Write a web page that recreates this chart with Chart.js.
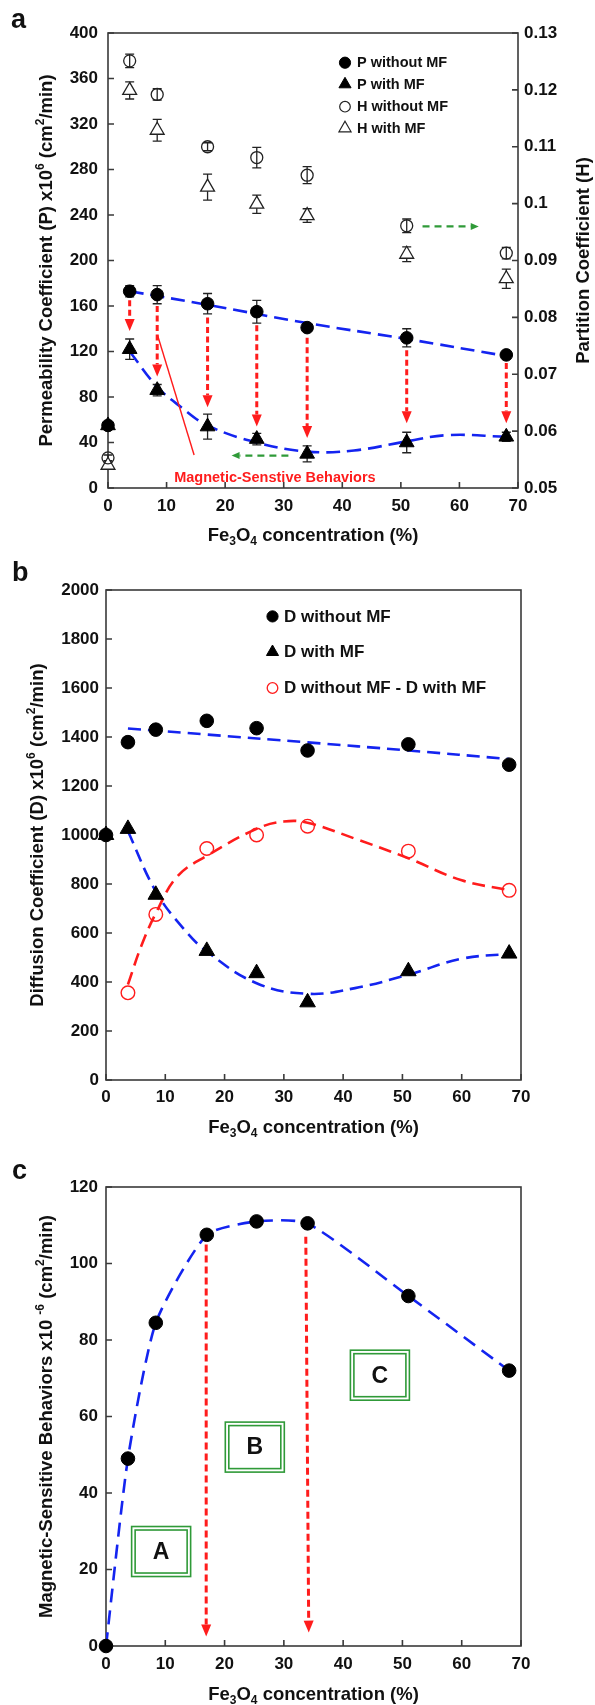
<!DOCTYPE html>
<html>
<head>
<meta charset="utf-8">
<title>Fe3O4 concentration – permeability, diffusion, magnetic-sensitive behaviors</title>
<script src="https://cdn.jsdelivr.net/npm/chart.js@4.4.1/dist/chart.umd.min.js"></script>
<style>
  html, body { margin: 0; padding: 0; background: #fff; }
  body { position: relative; width: 595px; height: 1705px; overflow: hidden; }
  canvas { position: absolute; left: 0; }
</style>
</head>
<body>
<canvas id="chartA" width="595" height="550" style="top:0px"></canvas>
<canvas id="chartB" width="595" height="595" style="top:550px"></canvas>
<canvas id="chartC" width="595" height="560" style="top:1145px"></canvas>
<script>
// Fe3O4 concentration (%), shared by the three panels
const conc = [0, 3.7, 8.4, 17, 25.4, 34, 51, 68];

// panel a – permeability (left axis) and partition coefficient (right axis)
const pWithout    = [55, 173, 170, 162, 155, 141, 132, 117];
const pWithoutErr = [0, 5, 8, 9, 10, 3, 8, 3];
const pWith       = [55, 122, 86, 54, 43, 30, 40, 45];
const pWithErr    = [0, 9, 5, 11, 5, 7, 9, 4];
const hWithout    = [0.0553, 0.1251, 0.1192, 0.1100, 0.1081, 0.1050, 0.0961, 0.0913];
const hWithoutErr = [0.0005, 0.0012, 0.0010, 0.0007, 0.0018, 0.0015, 0.0012, 0.0010];
const hWith       = [0.0540, 0.1199, 0.1129, 0.1029, 0.0999, 0.0979, 0.0911, 0.0868];
const hWithErr    = [0.0006, 0.0015, 0.0019, 0.0023, 0.0016, 0.0012, 0.0013, 0.0017];
// dashed trend lines
const fitPWithoutX = [3.7, 17, 34, 51, 68];
const fitPWithoutY = [173, 161, 145, 131, 116];
const fitPWithX    = [3.7, 8.4, 12.5, 17, 25.4, 34, 42, 51, 58, 68];
const fitPWithY    = [120, 89, 71, 55, 40, 32, 33, 41, 46.5, 45];

// panel b – diffusion coefficient
const dWithout = [1000, 1379, 1430, 1466, 1436, 1345, 1370, 1287];
const dWith    = [1000, 1025, 756, 527, 436, 317, 444, 516];
const dDiff    = [null, 356, 676, 945, 1000, 1036, 934, 774];
const fitDWithoutX = [3.7, 17, 34, 51, 68];
const fitDWithoutY = [1435, 1410, 1378, 1345, 1310];
const fitDWithX    = [3.7, 8.4, 13, 17, 25.4, 34, 42, 51, 60, 68];
const fitDWithY    = [1015, 770, 620, 525, 395, 352, 375, 430, 495, 515];
const fitDDiffX    = [3.7, 6, 8.4, 12, 17, 25.4, 30, 34, 42, 51, 60, 68];
const fitDDiffY    = [390, 550, 680, 830, 915, 1025, 1055, 1050, 985, 905, 815, 775];

// panel c – magnetic-sensitive behaviors
const magBehav = [0, 49, 84.5, 107.5, 111, 110.5, 91.5, 72];

// annotations (data coordinates)
const dropsA = [[3.7, 165, 138], [8.4, 160, 98], [17, 150, 71], [25.4, 143, 54], [34, 132, 44], [51, 121, 57], [68, 110, 57]];
const greenArrowsA = [[30.8, 28.5, 21.1, 28.5], [53.7, 230, 63.3, 230]];
const pointerLineA = [8.45, 134.5, 14.7, 29];
const noteA = ['Magnetic-Senstive Behaviors', 28.5, 8.8];
const dropsC = [[16.9, 105, 16.9, 2.5], [33.7, 107, 34.2, 3.5]];
const regionsC = [['A', 9.3, 24.7], ['B', 25.1, 52], ['C', 46.2, 70.8]];

const FONT = "'Liberation Sans', Arial, Helvetica, sans-serif";
const INK = '#111';
const AXIS = '#3a3a3a';
const BLUE = '#1424f0';
const RED = '#ff1c1c';
const GREEN = '#2f9a38';

const font = (size) => `bold ${size}px ${FONT}`;
const pts = (xs, ys) => xs.map((x, i) => ({ x, y: ys[i] })).filter(p => p.y !== null);

const titleFe = [['Fe', ''], ['3', 'sub'], ['O', ''], ['4', 'sub'], [' concentration (%)', '']];

function richText(ctx, parts, x, y, rot, size) {
  const small = size * 0.65;
  ctx.save();
  ctx.translate(x, y);
  ctx.rotate(rot);
  ctx.fillStyle = INK;
  ctx.textAlign = 'left';
  ctx.textBaseline = 'middle';
  let total = 0;
  parts.forEach(([t, m]) => { ctx.font = font(m ? small : size); total += ctx.measureText(t).width; });
  let cx = -total / 2;
  parts.forEach(([t, m]) => {
    ctx.font = font(m ? small : size);
    const dy = m === 'sup' ? -size * 0.36 : m === 'sub' ? size * 0.28 : 0;
    ctx.fillText(t, cx, dy);
    cx += ctx.measureText(t).width;
  });
  ctx.restore();
}

function drawFrame(chart) {
  const { ctx, chartArea: a, scales } = chart;
  ctx.save();
  ctx.strokeStyle = AXIS;
  ctx.lineWidth = 1.6;
  ctx.strokeRect(a.left, a.top, a.right - a.left, a.bottom - a.top);
  ctx.beginPath();
  for (const t of scales.x.ticks) {
    const p = scales.x.getPixelForValue(t.value);
    ctx.moveTo(p, a.bottom); ctx.lineTo(p, a.bottom - 6);
  }
  for (const t of scales.y.ticks) {
    const p = scales.y.getPixelForValue(t.value);
    ctx.moveTo(a.left, p); ctx.lineTo(a.left + 6, p);
  }
  if (scales.y2) {
    for (const t of scales.y2.ticks) {
      const p = scales.y2.getPixelForValue(t.value);
      ctx.moveTo(a.right, p); ctx.lineTo(a.right - 6, p);
    }
  }
  ctx.stroke();
  ctx.restore();
}

function drawErrorBars(chart) {
  const ctx = chart.ctx;
  chart.data.datasets.forEach((ds, i) => {
    if (!ds.errors) return;
    const meta = chart.getDatasetMeta(i);
    const ys = chart.scales[meta.yAxisID];
    ctx.save();
    ctx.strokeStyle = '#222';
    ctx.lineWidth = 1.3;
    ctx.beginPath();
    meta.data.forEach((pt, j) => {
      const e = ds.errors[j];
      if (!e) return;
      const v = ds.data[j].y;
      const t = ys.getPixelForValue(v + e), b = ys.getPixelForValue(v - e);
      ctx.moveTo(pt.x, t); ctx.lineTo(pt.x, b);
      ctx.moveTo(pt.x - 4.5, t); ctx.lineTo(pt.x + 4.5, t);
      ctx.moveTo(pt.x - 4.5, b); ctx.lineTo(pt.x + 4.5, b);
    });
    ctx.stroke();
    ctx.restore();
  });
}

function arrow(ctx, x1, y1, x2, y2, o) {
  const ang = Math.atan2(y2 - y1, x2 - x1);
  const hx = x2 - Math.cos(ang) * o.head, hy = y2 - Math.sin(ang) * o.head;
  ctx.save();
  ctx.strokeStyle = o.color;
  ctx.fillStyle = o.color;
  ctx.lineWidth = o.width;
  ctx.setLineDash(o.dash);
  ctx.beginPath(); ctx.moveTo(x1, y1); ctx.lineTo(hx, hy); ctx.stroke();
  ctx.setLineDash([]);
  ctx.beginPath();
  ctx.moveTo(x2, y2);
  ctx.lineTo(hx + Math.sin(ang) * o.half, hy - Math.cos(ang) * o.half);
  ctx.lineTo(hx - Math.sin(ang) * o.half, hy + Math.cos(ang) * o.half);
  ctx.closePath();
  ctx.fill();
  ctx.restore();
}

function marker(ctx, style, x, y, r, fill, stroke, lw) {
  ctx.save();
  ctx.fillStyle = fill;
  ctx.strokeStyle = stroke;
  ctx.lineWidth = lw;
  Chart.helpers.drawPoint(ctx, { pointStyle: style, radius: r, rotation: 0, borderWidth: lw }, x, y);
  ctx.restore();
}

function legend(ctx, items, mx, tx, size) {
  ctx.save();
  ctx.font = font(size);
  ctx.fillStyle = INK;
  ctx.textAlign = 'left';
  ctx.textBaseline = 'middle';
  items.forEach(it => {
    marker(ctx, it.style, mx, it.y, it.r, it.fill, it.stroke, it.lw);
    ctx.fillStyle = INK;
    ctx.fillText(it.label, tx, it.y + 0.5);
  });
  ctx.restore();
}

function panelLetter(ctx, letter, x, y) {
  ctx.save();
  ctx.font = font(27);
  ctx.fillStyle = INK;
  ctx.textAlign = 'left';
  ctx.textBaseline = 'alphabetic';
  ctx.fillText(letter, x, y);
  ctx.restore();
}

function xScale(height, pad) {
  return {
    type: 'linear', min: 0, max: 70,
    ticks: { stepSize: 10, padding: pad, color: INK, font: { family: FONT, size: 17, weight: 'bold' }, callback: v => String(v) },
    grid: { display: false, drawTicks: false },
    border: { display: false },
    afterFit: s => { s.height = height; }
  };
}

function yScale(min, max, step, width, pad, position, fmt) {
  return {
    type: 'linear', position, min, max,
    ticks: { stepSize: step, padding: pad, color: INK, font: { family: FONT, size: 17, weight: 'bold' }, callback: fmt },
    grid: { display: false, drawTicks: false },
    border: { display: false },
    afterFit: s => { s.width = width; }
  };
}

const markerSet = (style, r, fill, stroke, lw) => ({
  pointStyle: style, pointRadius: r, pointHoverRadius: r,
  pointBackgroundColor: fill, pointBorderColor: stroke, pointBorderWidth: lw,
  showLine: false, clip: false
});
const fitLine = (xs, ys, color, dash, tension) => ({
  data: pts(xs, ys), showLine: true, pointRadius: 0, borderColor: color, borderWidth: 2.6,
  borderDash: dash, tension: tension === undefined ? 0.4 : tension, fill: false, yAxisID: 'y'
});

const baseOptions = (padding, scales) => ({
  responsive: false, animation: false, devicePixelRatio: 1, events: [],
  layout: { padding },
  scales,
  plugins: { legend: { display: false }, tooltip: { enabled: false } }
});

// ---------- panel a ----------
new Chart(document.getElementById('chartA'), {
  type: 'scatter',
  data: {
    datasets: [
      { label: 'P without MF', data: pts(conc, pWithout), errors: pWithoutErr, yAxisID: 'y', ...markerSet('circle', 6.3, '#000', '#000', 1) },
      { label: 'P with MF', data: pts(conc, pWith), errors: pWithErr, yAxisID: 'y', ...markerSet('triangle', 8.5, '#000', '#000', 1) },
      { label: 'H without MF', data: pts(conc, hWithout), errors: hWithoutErr, yAxisID: 'y2', ...markerSet('circle', 6, 'rgba(0,0,0,0)', '#222', 1.3) },
      { label: 'H with MF', data: pts(conc, hWith), errors: hWithErr, yAxisID: 'y2', ...markerSet('triangle', 8, '#fff', '#222', 1.3) },
      fitLine(fitPWithoutX, fitPWithoutY, BLUE, [14, 7]),
      fitLine(fitPWithX, fitPWithY, BLUE, [14, 7])
    ]
  },
  options: baseOptions({ top: 33, left: 0, right: 0, bottom: 0 }, {
    x: xScale(62, 8),
    y: yScale(0, 400, 40, 108, 10, 'left', v => String(v)),
    y2: yScale(0.05, 0.13, 0.01, 77, 6, 'right', v => String(+v.toFixed(2)))
  }),
  plugins: [{
    id: 'panelA',
    beforeDatasetsDraw(chart) { drawFrame(chart); drawErrorBars(chart); },
    afterDatasetsDraw(chart) {
      const { ctx, scales: { x, y } } = chart;
      dropsA.forEach(([cx, from, to]) => arrow(ctx, x.getPixelForValue(cx), y.getPixelForValue(from), x.getPixelForValue(cx), y.getPixelForValue(to),
        { color: RED, width: 3, dash: [6, 3.5], head: 12, half: 5 }));
      greenArrowsA.forEach(([x1, y1, x2, y2]) => arrow(ctx, x.getPixelForValue(x1), y.getPixelForValue(y1), x.getPixelForValue(x2), y.getPixelForValue(y2),
        { color: GREEN, width: 2.2, dash: [7, 5], head: 8, half: 3.5 }));
      ctx.save();
      ctx.strokeStyle = RED;
      ctx.lineWidth = 1.4;
      ctx.beginPath();
      ctx.moveTo(x.getPixelForValue(pointerLineA[0]), y.getPixelForValue(pointerLineA[1]));
      ctx.lineTo(x.getPixelForValue(pointerLineA[2]), y.getPixelForValue(pointerLineA[3]));
      ctx.stroke();
      ctx.font = font(14.5);
      ctx.fillStyle = RED;
      ctx.textAlign = 'center';
      ctx.textBaseline = 'middle';
      ctx.fillText(noteA[0], x.getPixelForValue(noteA[1]), y.getPixelForValue(noteA[2]));
      ctx.restore();
    },
    afterDraw(chart) {
      const { ctx, chartArea: a } = chart;
      const midY = (a.top + a.bottom) / 2;
      richText(ctx, [['Permeability Coefficient (P) x10', ''], ['6', 'sup'], [' (cm', ''], ['2', 'sup'], ['/min)', '']], 47, midY, -Math.PI / 2, 18.5);
      richText(ctx, [['Partition Coefficient (H)', '']], 584, midY, -Math.PI / 2, 18.5);
      richText(ctx, titleFe, (a.left + a.right) / 2, a.bottom + 48, 0, 18.5);
      panelLetter(ctx, 'a', 11, 28);
      legend(ctx, [
        { label: 'P without MF', style: 'circle', r: 5.6, fill: '#000', stroke: '#000', lw: 1, y: 62.7 },
        { label: 'P with MF', style: 'triangle', r: 7, fill: '#000', stroke: '#000', lw: 1, y: 84.3 },
        { label: 'H without MF', style: 'circle', r: 5.3, fill: 'rgba(0,0,0,0)', stroke: '#222', lw: 1.2, y: 106.7 },
        { label: 'H with MF', style: 'triangle', r: 7, fill: 'rgba(0,0,0,0)', stroke: '#222', lw: 1.2, y: 128.3 }
      ], 345, 357, 14.5);
    }
  }]
});

// ---------- panel b ----------
new Chart(document.getElementById('chartB'), {
  type: 'scatter',
  data: {
    datasets: [
      { label: 'D without MF', data: pts(conc, dWithout), ...markerSet('circle', 6.8, '#000', '#000', 1) },
      { label: 'D with MF', data: pts(conc, dWith), ...markerSet('triangle', 9, '#000', '#000', 1) },
      { label: 'D without MF - D with MF', data: pts(conc, dDiff), ...markerSet('circle', 6.8, 'rgba(0,0,0,0)', RED, 1.4) },
      fitLine(fitDWithoutX, fitDWithoutY, BLUE, [13, 7]),
      fitLine(fitDWithX, fitDWithY, BLUE, [13, 7]),
      fitLine(fitDDiffX, fitDDiffY, RED, [13, 7])
    ]
  },
  options: baseOptions({ top: 40, left: 0, right: 74, bottom: 0 }, {
    x: xScale(65, 7),
    y: yScale(0, 2000, 200, 106, 7, 'left', v => String(v))
  }),
  plugins: [{
    id: 'panelB',
    beforeDatasetsDraw(chart) { drawFrame(chart); },
    afterDraw(chart) {
      const { ctx, chartArea: a } = chart;
      richText(ctx, [['Diffusion Coefficient (D) x10', ''], ['6', 'sup'], [' (cm', ''], ['2', 'sup'], ['/min)', '']], 38, (a.top + a.bottom) / 2, -Math.PI / 2, 18.5);
      richText(ctx, titleFe, (a.left + a.right) / 2, a.bottom + 48, 0, 18.5);
      panelLetter(ctx, 'b', 12, 31);
      legend(ctx, [
        { label: 'D without MF', style: 'circle', r: 5.6, fill: '#000', stroke: '#000', lw: 1, y: 66.4 },
        { label: 'D with MF', style: 'triangle', r: 7, fill: '#000', stroke: '#000', lw: 1, y: 102 },
        { label: 'D without MF - D with MF', style: 'circle', r: 5.3, fill: 'rgba(0,0,0,0)', stroke: RED, lw: 1.3, y: 138 }
      ], 272.5, 284, 17);
    }
  }]
});

// ---------- panel c ----------
new Chart(document.getElementById('chartC'), {
  type: 'scatter',
  data: {
    datasets: [
      { label: 'Magnetic-Sensitive Behaviors', data: pts(conc, magBehav), ...markerSet('circle', 6.8, '#000', '#000', 1) },
      fitLine(conc, magBehav, BLUE, [14, 8], 0.2)
    ]
  },
  options: baseOptions({ top: 42, left: 0, right: 74, bottom: 0 }, {
    x: xScale(59, 8),
    y: yScale(0, 120, 20, 106, 8, 'left', v => String(v))
  }),
  plugins: [{
    id: 'panelC',
    beforeDatasetsDraw(chart) { drawFrame(chart); },
    afterDatasetsDraw(chart) {
      const { ctx, scales: { x, y } } = chart;
      dropsC.forEach(([x1, y1, x2, y2]) => arrow(ctx, x.getPixelForValue(x1), y.getPixelForValue(y1), x.getPixelForValue(x2), y.getPixelForValue(y2),
        { color: RED, width: 3, dash: [7, 4], head: 12, half: 5 }));
      regionsC.forEach(([label, cx, cy]) => {
        const px = x.getPixelForValue(cx), py = y.getPixelForValue(cy);
        ctx.save();
        ctx.strokeStyle = GREEN;
        ctx.lineWidth = 1.6;
        ctx.strokeRect(px - 29.5, py - 25, 59, 50);
        ctx.strokeRect(px - 26, py - 21.5, 52, 43);
        ctx.font = font(23);
        ctx.fillStyle = INK;
        ctx.textAlign = 'center';
        ctx.textBaseline = 'middle';
        ctx.fillText(label, px, py + 1);
        ctx.restore();
      });
    },
    afterDraw(chart) {
      const { ctx, chartArea: a } = chart;
      richText(ctx, [['Magnetic-Sensitive Behaviors x10 ', ''], ['-6', 'sup'], [' (cm', ''], ['2', 'sup'], ['/min)', '']], 47, (a.top + a.bottom) / 2, -Math.PI / 2, 18.5);
      richText(ctx, titleFe, (a.left + a.right) / 2, a.bottom + 49, 0, 18.5);
      panelLetter(ctx, 'c', 12, 34);
    }
  }]
});
</script>
</body>
</html>
